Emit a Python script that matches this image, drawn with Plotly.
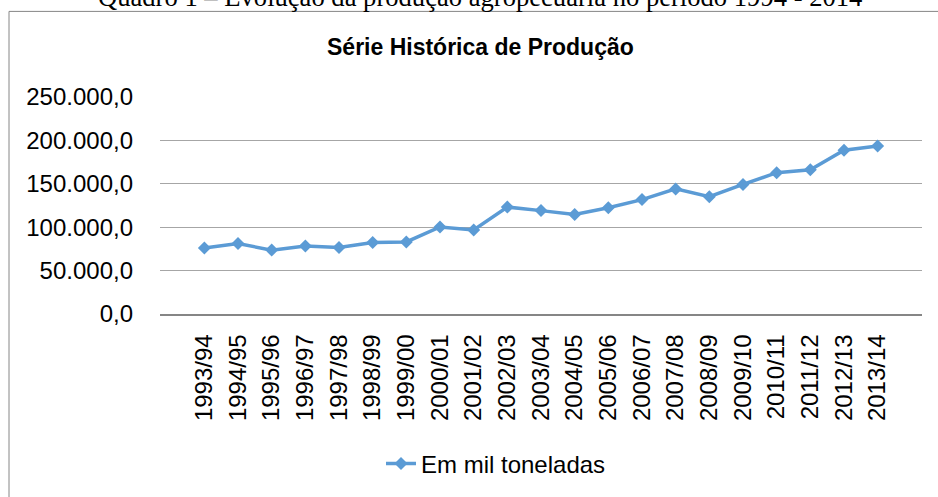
import plotly.graph_objects as go

categories = ["1993/94", "1994/95", "1995/96", "1996/97", "1997/98", "1998/99", "1999/00",
              "2000/01", "2001/02", "2002/03", "2003/04", "2004/05", "2005/06", "2006/07",
              "2007/08", "2008/09", "2009/10", "2010/11", "2011/12", "2012/13", "2013/14"]
producao = [76000.0, 81100.0, 73600.0, 78400.0, 76600.0, 82400.0, 83000.0,
            100300.0, 96800.0, 123200.0, 119100.0, 114700.0, 122500.0, 131800.0,
            144100.0, 135100.0, 149300.0, 162800.0, 166200.0, 188700.0, 193600.0]
y_ticks = [0, 50000, 100000, 150000, 200000, 250000]

series_name = "Em mil toneladas"
chart_title = "Série Histórica de Produção"
caption = "Quadro 1 – Evolução da produção agropecuária no período 1994 - 2014"

W, H = 938, 497
L, R, T, B = 160, 16, 97, 182
PW, PH = W - L - R, H - T - B


def px_x(px):
    return (px - L) / PW


def px_y(py):
    return (H - B - py) / PH


fig = go.Figure()
fig.add_trace(go.Scatter(
    x=categories, y=producao, name=series_name, mode="lines+markers",
    line=dict(color="#5B9BD5", width=3.5),
    marker=dict(symbol="diamond", size=10, color="#5B9BD5"),
    showlegend=True,
))

fig.update_layout(
    width=W, height=H, autosize=False,
    margin=dict(l=L, r=R, t=T, b=B, pad=0),
    paper_bgcolor="white", plot_bgcolor="white",
    separators=",.",
    font=dict(family="Liberation Sans, Arial, sans-serif", size=24, color="#000000"),
    xaxis=dict(type="category", tickangle=-90, showgrid=False, showline=True,
               linecolor="#868686", linewidth=1.5, ticks="", ticklabelstandoff=9,
               tickfont=dict(size=24), zeroline=False),
    yaxis=dict(range=[0, 250000], tickvals=y_ticks, tickformat=",.1f",
               showgrid=True, gridcolor="#A6A6A6", gridwidth=1, zeroline=False,
               showline=False, ticks="", ticklabelstandoff=26, tickfont=dict(size=24)),
    showlegend=True,
    legend=dict(x=px_x(381), xanchor="left", y=px_y(464), yanchor="middle",
                orientation="h", font=dict(size=24), bgcolor="rgba(0,0,0,0)"),
)

fig.add_annotation(text="<b>" + chart_title + "</b>", xref="paper", yref="paper",
                   x=px_x(480), y=px_y(47), xanchor="center", yanchor="middle",
                   showarrow=False,
                   font=dict(family="Liberation Sans, Arial, sans-serif", size=23, color="#000000"))
fig.add_annotation(text=caption, xref="paper", yref="paper",
                   x=px_x(480), y=px_y(-3.5), xanchor="center", yanchor="middle",
                   showarrow=False,
                   font=dict(family="Liberation Serif, Times New Roman, serif", size=26.6, color="#000000"))

fig.add_shape(type="rect", xref="paper", yref="paper",
              x0=px_x(9), x1=px_x(948), y0=px_y(11), y1=px_y(510),
              line=dict(color="#868686", width=1), fillcolor="rgba(0,0,0,0)", layer="below")

fig.write_html("out.html", config={"displayModeBar": False},
               post_script="document.body.style.margin='0';document.body.style.overflow='hidden';")
